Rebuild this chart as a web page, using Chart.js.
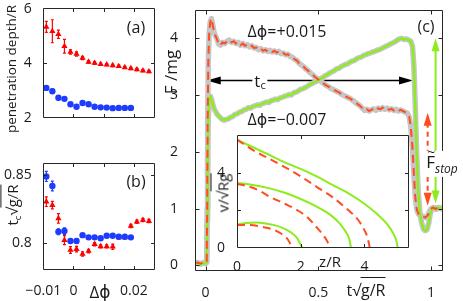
<!DOCTYPE html>
<html>
<head>
<meta charset="utf-8">
<script src="https://cdn.jsdelivr.net/npm/chart.js@4.4.1/dist/chart.umd.min.js"></script>
<style>
body { margin: 0; background: #fff; }
#fig { position: relative; width: 463px; height: 301px; overflow: hidden; background: #fff;
       font-family: "Open Sans", "DejaVu Sans", sans-serif; color: #1a1a1a; }
#fig canvas { position: absolute; }
.lbl { position: absolute; white-space: nowrap; transform: translate(-50%, -50%); line-height: 1; }
.rot { transform: translate(-50%, -50%) rotate(-90deg); }
.ov { border-top: 1px solid #1a1a1a; padding-top: 1px; }
sub { font-size: 0.65em; vertical-align: -0.25em; }
.wb { background: #fff; }
</style>
</head>
<body>
<div id="fig">
  <canvas id="ca" width="160" height="125" style="left:0;top:0"></canvas>
  <canvas id="cb" width="160" height="161" style="left:0;top:140px"></canvas>
  <canvas id="cc" width="303" height="301" style="left:160px;top:0"></canvas>
  <canvas id="ci" width="220" height="150" style="left:200px;top:125px"></canvas>

  <div class="lbl rot" style="left:12px;top:69px;font-size:13.5px">penetration depth/R</div>
  <div class="lbl" style="left:136px;top:27px;font-size:16px">(a)</div>
  <div class="lbl rot" style="left:14px;top:205px;font-size:15px">t<sub>c</sub>√<span class="ov">g/R</span></div>
  <div class="lbl" style="left:136px;top:181px;font-size:16px">(b)</div>
  <div class="lbl" style="left:100px;top:291px;font-size:17px">Δϕ</div>

  <div class="lbl rot" style="left:170px;top:72px;font-size:17px">F /mg</div>
  <div class="lbl" style="left:366px;top:290px;font-size:16px">t√<span class="ov">g/R</span></div>
  <div class="lbl" style="left:426px;top:26px;font-size:16px">(c)</div>
  <div class="lbl" style="left:287px;top:31px;font-size:16px">Δϕ=+0.015</div>
  <div class="lbl" style="left:287px;top:119px;font-size:16px">Δϕ=−0.007</div>
  <div class="lbl wb" style="left:260px;top:81px;font-size:17px;padding:0 2px">t<sub>c</sub></div>
  <div class="lbl wb" style="left:442px;top:164px;font-size:17px;padding:2px 1px;line-height:1.1">
    <span style="position:relative;display:inline-block">F<span style="position:absolute;left:1px;top:-9px;font-size:14px">~</span></span><i style="font-size:12px;vertical-align:-5px">stop</i>
  </div>

  <div class="lbl rot" style="left:223px;top:193px;font-size:15px">v/√<span class="ov">Rg</span></div>
  <div class="lbl" style="left:330px;top:261px;font-size:15px">z/R</div>
</div>

<script>
// ---- panels (a) and (b): versus delta phi ----
const dphiRed  = [-0.009, -0.007, -0.005, -0.003, -0.001, 0.001, 0.003, 0.005, 0.007, 0.009, 0.011, 0.013, 0.015, 0.017, 0.019, 0.021, 0.023, 0.025];
const dphiBlue = [-0.009, -0.007, -0.005, -0.003, -0.001, 0.001, 0.003, 0.005, 0.007, 0.009, 0.011, 0.013, 0.015, 0.017, 0.019];

const depthRed     = [5.33, 5.17, 5.06, 4.62, 4.41, 4.34, 4.19, 4.05, 4.01, 3.97, 3.95, 3.92, 3.89, 3.85, 3.81, 3.77, 3.73, 3.70];
const depthRedErr  = [0.2, 0.42, 0.15, 0.25, 0.08, 0.08, 0.06, 0.05, 0.05, 0.04, 0.04, 0.04, 0.04, 0.04, 0.04, 0.04, 0.04, 0.04];
const depthBlue    = [3.10, 2.98, 2.74, 2.70, 2.50, 2.41, 2.55, 2.50, 2.41, 2.39, 2.38, 2.36, 2.37, 2.37, 2.37];
const depthBlueErr = [0.06, 0.08, 0.08, 0.06, 0.05, 0.05, 0.05, 0.04, 0.04, 0.04, 0.04, 0.04, 0.04, 0.04, 0.04];

const tcRed     = [0.8305, 0.828, 0.8183, 0.8024, 0.7951, 0.7958, 0.7922, 0.7944, 0.7994, 0.7978, 0.7978, 0.7975, 0.8044, 0.8044, 0.8127, 0.8158, 0.8171, 0.8163];
const tcRedErr  = [0.0035, 0.0027, 0.0035, 0.0033, 0.0025, 0.002, 0.0015, 0.0013, 0.0012, 0.0012, 0.0012, 0.002, 0.0012, 0.0012, 0.0012, 0.0012, 0.0012, 0.0012];
const tcBlue    = [0.849, 0.842, 0.8085, 0.809, 0.8017, 0.8017, 0.806, 0.8044, 0.8044, 0.8037, 0.8056, 0.8056, 0.8048, 0.8048, 0.8044];
const tcBlueErr = [0.0037, 0.0035, 0.0022, 0.0024, 0.0018, 0.0015, 0.0012, 0.0012, 0.0012, 0.0012, 0.0012, 0.0012, 0.0012, 0.0012, 0.0012];

// ---- panel (c): force vs time ----
const tRed = [
  -0.047, -0.035, -0.022, -0.01, 0.0, 0.005, 0.007, 0.009, 0.012, 0.016,
  0.021, 0.026, 0.031, 0.037, 0.043, 0.05, 0.058, 0.066, 0.075, 0.085,
  0.095, 0.105, 0.115, 0.125, 0.135, 0.145, 0.155, 0.165, 0.175, 0.185,
  0.195, 0.205, 0.215, 0.225, 0.235, 0.245, 0.255, 0.265, 0.275, 0.285,
  0.295, 0.305, 0.315, 0.325, 0.335, 0.345, 0.355, 0.365, 0.375, 0.385,
  0.395, 0.405, 0.415, 0.425, 0.435, 0.445, 0.455, 0.465, 0.475, 0.485,
  0.495, 0.505, 0.515, 0.525, 0.535, 0.545, 0.555, 0.565, 0.575, 0.585,
  0.595, 0.605, 0.615, 0.625, 0.635, 0.645, 0.655, 0.665, 0.675, 0.685,
  0.695, 0.705, 0.715, 0.725, 0.735, 0.745, 0.755, 0.765, 0.775, 0.785,
  0.795, 0.805, 0.815, 0.825, 0.835, 0.845, 0.855, 0.865, 0.875, 0.885,
  0.895, 0.903, 0.91, 0.917, 0.924, 0.93, 0.937, 0.945, 0.955, 0.965,
  0.975, 0.985, 0.993, 1.0, 1.01, 1.02, 1.03, 1.04, 1.055
];
const fRed = [
  0.04, 0.05, 0.03, 0.05, 0.04, 0.06, 1.0, 2.5, 3.6, 4.1,
  4.3, 4.35, 4.25, 4.12, 4.05, 3.99, 3.9, 3.88, 3.93, 3.91,
  3.95, 3.97, 3.93, 3.95, 3.91, 3.93, 3.88, 3.91, 3.87, 3.89,
  3.85, 3.87, 3.83, 3.84, 3.8, 3.82, 3.78, 3.8, 3.77, 3.79,
  3.76, 3.78, 3.75, 3.77, 3.73, 3.74, 3.71, 3.72, 3.68, 3.67,
  3.63, 3.61, 3.56, 3.53, 3.5, 3.46, 3.43, 3.39, 3.36, 3.32,
  3.29, 3.26, 3.23, 3.2, 3.17, 3.15, 3.12, 3.1, 3.08, 3.06,
  3.04, 3.01, 2.99, 2.97, 2.95, 2.93, 2.9, 2.87, 2.84, 2.81,
  2.77, 2.73, 2.75, 2.72, 2.74, 2.76, 2.73, 2.77, 2.75, 2.78,
  2.75, 2.77, 2.74, 2.76, 2.73, 2.75, 2.72, 2.74, 2.72, 2.7,
  2.68, 2.62, 2.45, 2.1, 1.6, 1.2, 0.98, 0.9, 0.88, 0.86,
  0.84, 0.88, 0.95, 1.0, 1.02, 0.99, 1.02, 1.0, 1.01
];
const tGreen = [
  -0.047, -0.035, -0.022, -0.01, 0.0, 0.005, 0.007, 0.009, 0.012, 0.016,
  0.021, 0.026, 0.031, 0.037, 0.043, 0.05, 0.058, 0.066, 0.074, 0.082,
  0.09, 0.10, 0.11, 0.12, 0.13, 0.14, 0.15, 0.16, 0.17, 0.18,
  0.19, 0.20, 0.21, 0.22, 0.23, 0.24, 0.25, 0.26, 0.27, 0.28,
  0.29, 0.30, 0.31, 0.32, 0.33, 0.34, 0.35, 0.36, 0.37, 0.38,
  0.39, 0.40, 0.41, 0.42, 0.43, 0.44, 0.45, 0.46, 0.47, 0.48,
  0.49, 0.50, 0.51, 0.52, 0.53, 0.54, 0.55, 0.56, 0.57, 0.58,
  0.59, 0.60, 0.61, 0.62, 0.63, 0.64, 0.65, 0.66, 0.67, 0.68,
  0.69, 0.70, 0.71, 0.72, 0.73, 0.74, 0.75, 0.76, 0.77, 0.78,
  0.79, 0.80, 0.81, 0.82, 0.83, 0.84, 0.85, 0.86, 0.87, 0.88,
  0.89, 0.90, 0.91, 0.918, 0.924, 0.93, 0.936, 0.943, 0.95, 0.958,
  0.966, 0.974, 0.982, 0.99, 0.997, 1.005, 1.015, 1.025, 1.035, 1.045, 1.055
];
const fGreen = [
  0.03, 0.04, 0.02, 0.04, 0.03, 0.05, 0.8, 1.9, 2.6, 2.9,
  2.98, 2.93, 2.85, 2.77, 2.72, 2.67, 2.63, 2.6, 2.57, 2.56,
  2.57, 2.58, 2.61, 2.62, 2.66, 2.67, 2.7, 2.71, 2.74, 2.75,
  2.78, 2.77, 2.8, 2.81, 2.83, 2.82, 2.85, 2.86, 2.88, 2.87,
  2.9, 2.91, 2.93, 2.92, 2.95, 2.96, 2.98, 2.99, 3.01, 3.0,
  3.04, 3.05, 3.07, 3.1, 3.11, 3.13, 3.15, 3.18, 3.2, 3.22,
  3.24, 3.27, 3.29, 3.31, 3.34, 3.36, 3.39, 3.41, 3.43, 3.46,
  3.47, 3.5, 3.52, 3.54, 3.55, 3.58, 3.6, 3.61, 3.64, 3.66,
  3.67, 3.7, 3.71, 3.73, 3.74, 3.76, 3.77, 3.79, 3.8, 3.82,
  3.84, 3.86, 3.88, 3.9, 3.92, 3.94, 3.97, 3.99, 4.0, 3.98,
  3.99, 3.97, 3.95, 3.85, 3.5, 2.8, 2.0, 1.3, 0.95, 0.75,
  0.64, 0.61, 0.63, 0.75, 0.92, 1.0, 1.02, 0.99, 1.02, 1.0, 1.01
];

// annotation arrows in panel (c), in data units
const tcSpan = [0.005, 0.92], tcLevel = 3.26;
const stopRed = { t: 0.985, lo: 1.05, hi: 2.69 };
const stopGreen = { t: 1.02, lo: 1.09, hi: 4.0 };

// ---- inset: v vs z ----
const zGreenTop = [0, 0.5, 1, 1.5, 2, 2.5, 3, 3.5, 4, 4.4, 4.7, 4.9, 5.0, 5.05];
const vGreenTop = [5.75, 5.35, 4.95, 4.55, 4.2, 3.8, 3.35, 2.9, 2.35, 1.8, 1.3, 0.8, 0.4, 0];
const zRedTop   = [0, 0.5, 1, 1.5, 2, 2.5, 3, 3.5, 3.8, 4.0, 4.1, 4.17];
const vRedTop   = [5.75, 5.2, 4.75, 4.3, 3.8, 3.25, 2.7, 2.0, 1.5, 0.95, 0.55, 0];
const zGreenMid = [0, 0.5, 1, 1.5, 2, 2.5, 2.9, 3.2, 3.4, 3.52, 3.58];
const vGreenMid = [3.45, 3.35, 3.18, 2.93, 2.6, 2.2, 1.8, 1.35, 0.9, 0.5, 0];
const zRedMid   = [0, 0.3, 0.7, 1.0, 1.5, 1.9, 2.2, 2.5, 2.7, 2.85, 2.92];
const vRedMid   = [3.4, 3.3, 3.05, 2.75, 2.35, 2.0, 1.65, 1.1, 0.7, 0.3, 0];
const zGreenLow = [0, 0.3, 0.6, 0.9, 1.2, 1.5, 1.7, 1.85, 1.95, 2.05];
const vGreenLow = [1.25, 1.33, 1.35, 1.3, 1.2, 1.02, 0.82, 0.6, 0.35, 0];
const zRedLow   = [0, 0.4, 0.8, 1.1, 1.35, 1.55, 1.65, 1.72];
const vRedLow   = [1.22, 1.22, 1.12, 1.0, 0.8, 0.55, 0.3, 0];

const RED = '#ff0000', BLUE = '#1e3cff';
const ORANGE = '#ff4d1f', LIME = '#8cec1c', GREY = '#c6c6c6';

Chart.defaults.font.family = '"Open Sans", "DejaVu Sans", sans-serif';
Chart.defaults.font.size = 14;
Chart.defaults.color = '#1a1a1a';

const zip = (xs, ys) => xs.map((x, i) => ({ x: x, y: ys[i] }));

function axis(min, max, ticks, size, tickOpts) {
  return {
    type: 'linear', min: min, max: max,
    grid: { display: false }, border: { display: false },
    ticks: Object.assign({ autoSkip: false, maxRotation: 0, padding: 3 }, tickOpts || {}),
    afterBuildTicks: s => { s.ticks = ticks.map(v => ({ value: v })); },
    afterFit: s => {
      if (s.isHorizontal()) s.height = size; else s.width = size;
      s.paddingTop = s.paddingBottom = s.paddingLeft = s.paddingRight = 0;
    }
  };
}

// box with inward ticks on all four sides
const frame = {
  id: 'frame',
  afterDraw(chart, args, opts) {
    const { ctx, chartArea: a } = chart;
    const L = opts.len || 4;
    const l = Math.round(a.left) + 0.5, r = Math.round(a.right) - 0.5;
    const t = Math.round(a.top) + 0.5, b = Math.round(a.bottom) - 0.5;
    ctx.save();
    ctx.strokeStyle = '#262626';
    ctx.lineWidth = 1;
    ctx.beginPath();
    const sx = chart.scales.x, sy = chart.scales.y;
    sx.ticks.forEach(tk => {
      const x = Math.round(sx.getPixelForValue(tk.value)) + 0.5;
      if (x - l < 2 || r - x < 2) return;
      ctx.moveTo(x, b); ctx.lineTo(x, b - L);
      ctx.moveTo(x, t); ctx.lineTo(x, t + L);
    });
    sy.ticks.forEach(tk => {
      const y = Math.round(sy.getPixelForValue(tk.value)) + 0.5;
      if (y - t < 2 || b - y < 2) return;
      ctx.moveTo(l, y); ctx.lineTo(l + L, y);
      ctx.moveTo(r, y); ctx.lineTo(r - L, y);
    });
    ctx.rect(l, t, r - l, b - t);
    ctx.stroke();
    ctx.restore();
  }
};

const errorBars = {
  id: 'errorBars',
  beforeDatasetsDraw(chart) {
    const { ctx } = chart;
    const sx = chart.scales.x, sy = chart.scales.y;
    chart.data.datasets.forEach(ds => {
      if (!ds.errs) return;
      ctx.save();
      ctx.strokeStyle = ds.borderColor;
      ctx.lineWidth = 1.2;
      ds.data.forEach((p, i) => {
        const px = sx.getPixelForValue(p.x);
        const y0 = sy.getPixelForValue(p.y - ds.errs[i]);
        const y1 = sy.getPixelForValue(p.y + ds.errs[i]);
        ctx.beginPath();
        ctx.moveTo(px, y0); ctx.lineTo(px, y1);
        ctx.moveTo(px - 1.5, y0); ctx.lineTo(px + 1.5, y0);
        ctx.moveTo(px - 1.5, y1); ctx.lineTo(px + 1.5, y1);
        ctx.stroke();
      });
      ctx.restore();
    });
  }
};

const whiteArea = {
  id: 'whiteArea',
  beforeDraw(chart) {
    const { ctx, chartArea: a } = chart;
    ctx.save();
    ctx.fillStyle = '#fff';
    ctx.fillRect(a.left, a.top, a.right - a.left, a.bottom - a.top);
    ctx.restore();
  }
};

function head(ctx, x, y, dx, dy, len, w) {
  ctx.beginPath();
  ctx.moveTo(x, y);
  ctx.lineTo(x - dx * len - dy * w / 2, y - dy * len + dx * w / 2);
  ctx.lineTo(x - dx * len + dy * w / 2, y - dy * len - dx * w / 2);
  ctx.closePath();
  ctx.fill();
}

const arrows = {
  id: 'arrows',
  beforeDatasetsDraw(chart) {
    const { ctx } = chart;
    const sx = chart.scales.x, sy = chart.scales.y;
    const x0 = sx.getPixelForValue(tcSpan[0]), x1 = sx.getPixelForValue(tcSpan[1]);
    const y = Math.round(sy.getPixelForValue(tcLevel)) + 0.5;
    ctx.save();
    ctx.strokeStyle = ctx.fillStyle = '#000';
    ctx.lineWidth = 1.5;
    ctx.beginPath(); ctx.moveTo(x0 + 8, y); ctx.lineTo(x1 - 8, y); ctx.stroke();
    head(ctx, x0, y, -1, 0, 14, 8);
    head(ctx, x1, y, 1, 0, 14, 8);
    ctx.restore();
  },
  afterDatasetsDraw(chart) {
    const { ctx } = chart;
    const sx = chart.scales.x, sy = chart.scales.y;
    [[stopRed, ORANGE, [5, 4]], [stopGreen, LIME, []]].forEach(([a, col, dash]) => {
      const x = sx.getPixelForValue(a.t);
      const yl = sy.getPixelForValue(a.lo), yh = sy.getPixelForValue(a.hi);
      ctx.save();
      ctx.strokeStyle = ctx.fillStyle = col;
      ctx.lineWidth = 2;
      ctx.setLineDash(dash);
      ctx.beginPath(); ctx.moveTo(x, yh + 10); ctx.lineTo(x, yl - 10); ctx.stroke();
      ctx.setLineDash([]);
      head(ctx, x, yh, 0, -1, 13, 8);
      head(ctx, x, yl, 0, 1, 13, 8);
      ctx.restore();
    });
  }
};

const base = {
  responsive: false, animation: false, devicePixelRatio: 1,
  plugins: { legend: { display: false }, tooltip: { enabled: false } }
};

function opts(layout, scales, frameLen) {
  return Object.assign({}, base, {
    layout: { padding: layout },
    scales: scales,
    plugins: Object.assign({}, base.plugins, { frame: { len: frameLen } })
  });
}

// (a)
new Chart(document.getElementById('ca'), {
  type: 'scatter',
  data: {
    datasets: [
      { data: zip(dphiRed, depthRed), errs: depthRedErr, pointStyle: 'triangle', pointRadius: 3.6,
        backgroundColor: RED, borderColor: RED, borderWidth: 0 },
      { data: zip(dphiBlue, depthBlue), errs: depthBlueErr, pointStyle: 'circle', pointRadius: 3.2,
        backgroundColor: BLUE, borderColor: BLUE, borderWidth: 0 }
    ]
  },
  options: opts({ left: 0, top: 8, right: 5, bottom: 0 }, {
    x: axis(-0.0102, 0.027, [-0.01, 0, 0.01, 0.02], 7, { display: false }),
    y: axis(2, 6.02, [2, 4, 6], 42.7, { padding: 3 })
  }, 3.5),
  plugins: [errorBars, frame]
});

// (b)
new Chart(document.getElementById('cb'), {
  type: 'scatter',
  data: {
    datasets: [
      { data: zip(dphiBlue, tcBlue), errs: tcBlueErr, pointStyle: 'circle', pointRadius: 3.2,
        backgroundColor: BLUE, borderColor: BLUE, borderWidth: 0 },
      { data: zip(dphiRed, tcRed), errs: tcRedErr, pointStyle: 'triangle', pointRadius: 3.6,
        backgroundColor: RED, borderColor: RED, borderWidth: 0 }
    ]
  },
  options: opts({ left: 0, top: 22.5, right: 5, bottom: 0 }, {
    x: axis(-0.0102, 0.027, [-0.01, 0, 0.01, 0.02], 31, {
      padding: 5,
      callback: v => v === 0.01 ? '' : (v < 0 ? '\u2212' + Math.abs(v) : String(v))
    }),
    y: axis(0.7805, 0.8592, [0.8, 0.85], 42.7, { padding: 3, callback: v => String(v) })
  }, 3.5),
  plugins: [errorBars, frame]
});

// (c): first dataset is drawn on top
const lineDs = (data, color, width, dash) => ({
  data: data, showLine: true, pointRadius: 0, borderColor: color, borderWidth: width,
  borderDash: dash, tension: 0, borderJoinStyle: 'round'
});
new Chart(document.getElementById('cc'), {
  type: 'scatter',
  data: {
    datasets: [
      lineDs(zip(tRed, fRed), ORANGE, 2, [8, 5]),
      lineDs(zip(tGreen, fGreen), LIME, 2.4, []),
      lineDs(zip(tGreen, fGreen), GREY, 5.5, []),
      lineDs(zip(tRed, fRed), GREY, 5.5, [])
    ]
  },
  options: opts({ left: 0, top: 10, right: 20, bottom: 0 }, {
    x: axis(-0.047, 1.053, [0, 0.5, 1], 30, { padding: 6, callback: v => String(v) }),
    y: axis(-0.1, 4.5, [0, 1, 2, 3, 4], 35, { padding: 9, callback: v => String(v) })
  }, 4),
  plugins: [arrows, frame]
});

// inset
const insetDs = (xs, ys, color, dash) => ({
  data: zip(xs, ys), showLine: true, pointRadius: 0, borderColor: color, borderWidth: 2,
  borderDash: dash, cubicInterpolationMode: 'monotone'
});
new Chart(document.getElementById('ci'), {
  type: 'scatter',
  data: {
    datasets: [
      insetDs(zRedTop, vRedTop, ORANGE, [8, 5]),
      insetDs(zRedMid, vRedMid, ORANGE, [8, 5]),
      insetDs(zRedLow, vRedLow, ORANGE, [8, 5]),
      insetDs(zGreenTop, vGreenTop, LIME, []),
      insetDs(zGreenMid, vGreenMid, LIME, []),
      insetDs(zGreenLow, vGreenLow, LIME, [])
    ]
  },
  options: opts({ left: 0, top: 10, right: 11, bottom: 0 }, {
    x: axis(0, 5.4, [0, 2, 4], 27, { padding: 3, callback: v => String(v) }),
    y: axis(0, 6, [0, 2, 4], 37, { padding: 4, callback: v => v === 2 ? '' : String(v) })
  }, 3.5),
  plugins: [whiteArea, frame]
});
</script>
</body>
</html>
